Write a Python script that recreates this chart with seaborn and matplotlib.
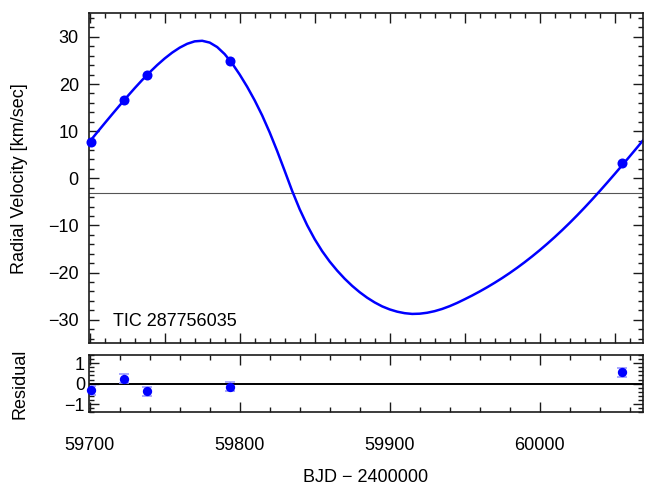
import numpy as np
import pandas as pd
import matplotlib
matplotlib.use("Agg")
import matplotlib.pyplot as plt
from matplotlib.ticker import MultipleLocator, FormatStrFormatter
import seaborn as sns

# ---- data ----
obs_bjd = [59700.6, 59722.9, 59738.5, 59793.7, 60054.7]
obs_rv = [7.75, 16.65, 21.9, 24.85, 3.3]
obs_err = [0.22, 0.22, 0.22, 0.22, 0.22]
resid = [-0.32, 0.23, -0.37, -0.14, 0.56]

model_bjd = [59699, 59705, 59710, 59715, 59720, 59725, 59730, 59735, 59740, 59745,
             59750, 59755, 59760, 59765, 59770, 59775, 59780, 59785, 59790, 59795,
             59800, 59805, 59810, 59815, 59820, 59825, 59830, 59835, 59840, 59845,
             59850, 59855, 59860, 59865, 59870, 59875, 59880, 59885, 59890, 59895,
             59900, 59905, 59910, 59915, 59920, 59925, 59930, 59935, 59940, 59945,
             59950, 59955, 59960, 59965, 59970, 59975, 59980, 59985, 59990, 59995,
             60000, 60005, 60010, 60015, 60020, 60025, 60030, 60035, 60040, 60045,
             60050, 60055, 60060, 60065, 60070]
model_rv = [7.41, 9.75, 11.68, 13.59, 15.47, 17.32, 19.12, 20.85, 22.49, 24.02,
            25.42, 26.66, 27.71, 28.53, 29.05, 29.17, 28.79, 27.84, 26.34, 24.36,
            22.01, 19.41, 16.53, 13.33, 9.73, 5.78, 1.58, -2.69, -6.56, -9.96,
            -12.91, -15.46, -17.66, -19.58, -21.30, -22.82, -24.16, -25.33, -26.33, -27.17,
            -27.81, -28.29, -28.61, -28.77, -28.72, -28.52, -28.18, -27.71, -27.12, -26.43,
            -25.66, -24.86, -24.01, -23.11, -22.16, -21.16, -20.10, -18.98, -17.80, -16.56,
            -15.26, -13.90, -12.48, -11.00, -9.46, -7.86, -6.20, -4.49, -2.73, -0.93,
            0.90, 2.76, 4.64, 6.54, 8.46]
gamma = -3.2
target_name = "TIC 287756035"
x_ticks = [59700, 59800, 59900, 60000]

obs = pd.DataFrame({"bjd": obs_bjd, "rv": obs_rv, "err": obs_err, "resid": resid})
model = pd.DataFrame({"bjd": model_bjd, "rv": model_rv})

sns.set_theme(style="ticks")
plt.rcParams["font.family"] = ["Liberation Sans", "DejaVu Sans"]
plt.rcParams["font.size"] = 13
plt.rcParams["axes.linewidth"] = 1.2
plt.rcParams["axes.edgecolor"] = "#1a1a1a"
plt.rcParams["text.color"] = "black"
plt.rcParams["axes.labelcolor"] = "black"
plt.rcParams["xtick.labelcolor"] = "black"
plt.rcParams["ytick.labelcolor"] = "black"

W, H = 646, 488
fig = plt.figure(figsize=(W / 100, H / 100), dpi=100)
ax = fig.add_axes([88.5 / W, 1 - 343.3 / H, (643.3 - 88.5) / W, 330.0 / H])
axr = fig.add_axes([88.5 / W, 1 - 412.3 / H, (643.3 - 88.5) / W, 57.3 / H])

blue = "#0000ff"
xlim = (59699.2, 60069.1)

# main panel
ax.axhline(gamma, color="#555555", lw=0.8, zorder=1)
sns.lineplot(data=model, x="bjd", y="rv", ax=ax, color=blue, lw=1.8, zorder=2,
             solid_joinstyle="round")
ax.errorbar(obs["bjd"], obs["rv"], yerr=obs["err"], fmt="none", ecolor="#9999ff",
            elinewidth=1, capsize=3, zorder=3)
sns.scatterplot(data=obs, x="bjd", y="rv", ax=ax, color=blue, s=52, linewidth=0,
                zorder=4, clip_on=False)
ax.set_xlim(*xlim)
ax.set_ylim(-35, 35)
ax.xaxis.set_major_locator(MultipleLocator(50))
ax.xaxis.set_minor_locator(MultipleLocator(10))
ax.yaxis.set_major_locator(MultipleLocator(10))
ax.yaxis.set_minor_locator(MultipleLocator(2))
ax.tick_params(axis="both", which="both", direction="in", top=True, right=True,
               width=1.0, color="#1a1a1a")
ax.tick_params(which="major", length=7)
ax.tick_params(which="minor", length=3.5)
ax.tick_params(axis="y", which="major", pad=7, labelsize=13, labelcolor="black")
ax.tick_params(axis="x", labelbottom=False)
ax.set_xlabel("")
ax.set_ylabel("")
ax.text(59715.7, -31.4, target_name, fontsize=13, ha="left", va="baseline",
        color="black")

# residual panel
axr.axhline(0, color="black", lw=1.4, zorder=1)
axr.errorbar(obs["bjd"], obs["resid"], yerr=obs["err"], fmt="none", ecolor="#9999ff",
             elinewidth=1.2, capsize=3.3, capthick=1.2, zorder=2)
sns.scatterplot(data=obs, x="bjd", y="resid", ax=axr, color=blue, s=45, linewidth=0,
                zorder=3, clip_on=False)
axr.set_xlim(*xlim)
axr.set_ylim(-1.4, 1.4)
axr.set_xticks(x_ticks)
axr.xaxis.set_minor_locator(MultipleLocator(20))
axr.xaxis.set_major_formatter(FormatStrFormatter("%d"))
axr.yaxis.set_major_locator(MultipleLocator(1))
axr.yaxis.set_minor_locator(MultipleLocator(0.2))
axr.tick_params(axis="both", which="both", direction="in", top=True, right=True,
                width=1.0, color="#1a1a1a")
axr.tick_params(which="major", length=7)
axr.tick_params(which="minor", length=3.5)
axr.tick_params(axis="x", which="major", pad=18, labelsize=13, labelcolor="black")
axr.tick_params(axis="y", which="major", pad=2.5, labelsize=13, labelcolor="black")
axr.set_xlabel("")
axr.set_ylabel("")

fig.text(19.5 / W, 1 - 178.3 / H, "Radial Velocity [km/sec]", rotation=90,
         ha="center", va="center", fontsize=13, color="black")
fig.text(19.5 / W, 1 - 383.7 / H, "Residual", rotation=90,
         ha="center", va="center", fontsize=13, color="black")
fig.text(366 / W, 1 - 477 / H, "BJD \u2212 2400000", ha="center", va="center",
         fontsize=13, color="black")

fig.savefig("out.png", dpi=100)
